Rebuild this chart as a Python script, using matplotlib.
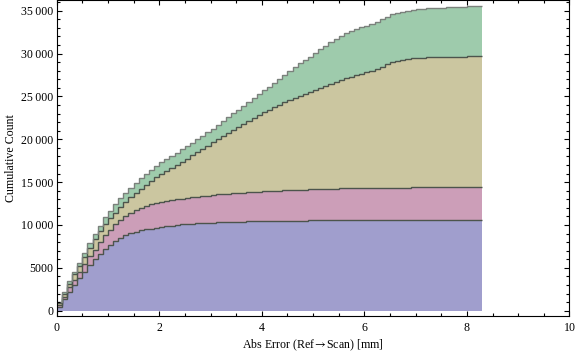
import numpy as np
import matplotlib
matplotlib.use("Agg")
import matplotlib.pyplot as plt
from matplotlib.ticker import MultipleLocator, FuncFormatter

# cumulative counts per group, bins of 0.1 mm starting at 0
bin_width = 0.1
blue = [470, 1360, 2220, 2960, 3770, 4510, 5370, 5990, 6610, 7200,
        7700, 8170, 8480, 8790, 9020, 9220, 9370, 9490, 9570, 9690,
        9800, 9880, 9920, 10000, 10080, 10130, 10170, 10200, 10230, 10260,
        10290, 10310, 10330, 10350, 10370, 10390, 10400, 10420, 10430, 10440,
        10450, 10460, 10470, 10480, 10490, 10500, 10505, 10510, 10520, 10525,
        10530, 10540, 10545, 10550, 10555, 10560, 10565, 10570, 10575, 10580,
        10585, 10590, 10592, 10595, 10598, 10600, 10603, 10606, 10608, 10610,
        10612, 10614, 10616, 10618, 10620, 10622, 10624, 10626, 10628, 10630,
        10632, 10634, 10635]
pink = [230, 270, 500, 660, 740, 900, 1010, 1130, 1400, 1590,
        1750, 1940, 2140, 2220, 2380, 2530, 2650, 2760, 2880, 2910,
        2920, 2940, 2980, 2990, 3000, 3030, 3070, 3110, 3150, 3180,
        3210, 3250, 3280, 3310, 3340, 3360, 3390, 3410, 3440, 3460,
        3480, 3500, 3520, 3540, 3560, 3580, 3595, 3610, 3620, 3635,
        3650, 3660, 3675, 3685, 3695, 3705, 3715, 3720, 3725, 3730,
        3735, 3740, 3748, 3750, 3752, 3755, 3757, 3759, 3762, 3765,
        3768, 3769, 3770, 3771, 3772, 3773, 3773, 3773, 3773, 3773,
        3773, 3773, 3775]
tan = [150, 270, 430, 660, 700, 890, 970, 1230, 1240, 1310,
       1330, 1340, 1480, 1690, 1850, 2000, 2230, 2450, 2700, 2950,
       3210, 3480, 3760, 4030, 4300, 4590, 4880, 5190, 5500, 5820,
       6150, 6470, 6790, 7100, 7410, 7720, 8020, 8320, 8620, 8920,
       9220, 9500, 9770, 10030, 10280, 10520, 10750, 10960, 11160, 11350,
       11540, 11750, 11980, 12225, 12450, 12655, 12840, 13020, 13190, 13360,
       13530, 13670, 13820, 14125, 14390, 14615, 14730, 14885, 14990, 15055,
       15100, 15137, 15174, 15176, 15178, 15185, 15233, 15236, 15239, 15247,
       15295, 15303, 15310]
green = [150, 240, 260, 280, 310, 390, 500, 560, 660, 780,
         900, 980, 1040, 1080, 1120, 1170, 1210, 1260, 1310, 1370,
         1420, 1420, 1430, 1430, 1440, 1450, 1470, 1490, 1520, 1560,
         1600, 1670, 1740, 1820, 1900, 1980, 2080, 2180, 2290, 2420,
         2550, 2670, 2820, 3010, 3210, 3400, 3590, 3770, 3940, 4110,
         4330, 4530, 4720, 4870, 5020, 5140, 5240, 5320, 5380, 5400,
         5400, 5480, 5560, 5570, 5580, 5590, 5600, 5620, 5630, 5650,
         5670, 5680, 5700, 5735, 5760, 5790, 5790, 5790, 5800, 5810,
         5810, 5810, 5810]

layers = [blue, pink, tan, green]
fills = ["#a09ecd", "#cc9eb8", "#cbc6a0", "#9ecbac"]
edge_cols = ["#4c544c", "#4c544c", "#4c544c", "#7b817c"]

plt.rcParams['font.family'] = ['Liberation Serif', 'DejaVu Serif']
plt.rcParams['mathtext.fontset'] = 'stix'

fig = plt.figure(figsize=(5.76, 3.57), dpi=100)
ax = fig.add_axes([0.0984, 0.1148, 0.8903, 0.8838])

edges = np.arange(len(blue) + 1) * bin_width
base = np.zeros(len(blue))
tops = []
for vals, c in zip(layers, fills):
    top = base + np.array(vals)
    ax.stairs(top, edges, baseline=base, fill=True, color=c, lw=0)
    tops.append(top)
    base = top
for top, ec in zip(tops, edge_cols):
    ax.stairs(top, edges, baseline=None, color=ec, lw=1.0)

ax.set_xlim(0, 10)
ax.set_ylim(-618, 36190)

def fmt(v, pos):
    v = int(round(v))
    if abs(v) >= 10000:
        s = f"{v:,}".replace(",", "\u2009")
    else:
        s = str(v)
    return s

ax.xaxis.set_major_locator(MultipleLocator(2))
ax.xaxis.set_minor_locator(MultipleLocator(0.5))
ax.yaxis.set_major_locator(MultipleLocator(5000))
ax.yaxis.set_minor_locator(MultipleLocator(1000))
ax.yaxis.set_major_formatter(FuncFormatter(fmt))
ax.tick_params(which='both', direction='in', top=True, right=True, labelsize=8.6, width=0.8)
ax.tick_params(which='major', length=3.4)
ax.tick_params(which='minor', length=2.0)
ax.tick_params(axis='x', pad=4)
ax.tick_params(axis='y', pad=2.5)
for s in ax.spines.values():
    s.set_linewidth(0.8)

ax.set_xlabel("Abs Error (Ref$\\rightarrow\\!$Scan) [mm]", fontsize=8.6, labelpad=3)
ax.set_ylabel("Cumulative Count", fontsize=8.6, labelpad=3)

fig.savefig("out.png", dpi=100)
